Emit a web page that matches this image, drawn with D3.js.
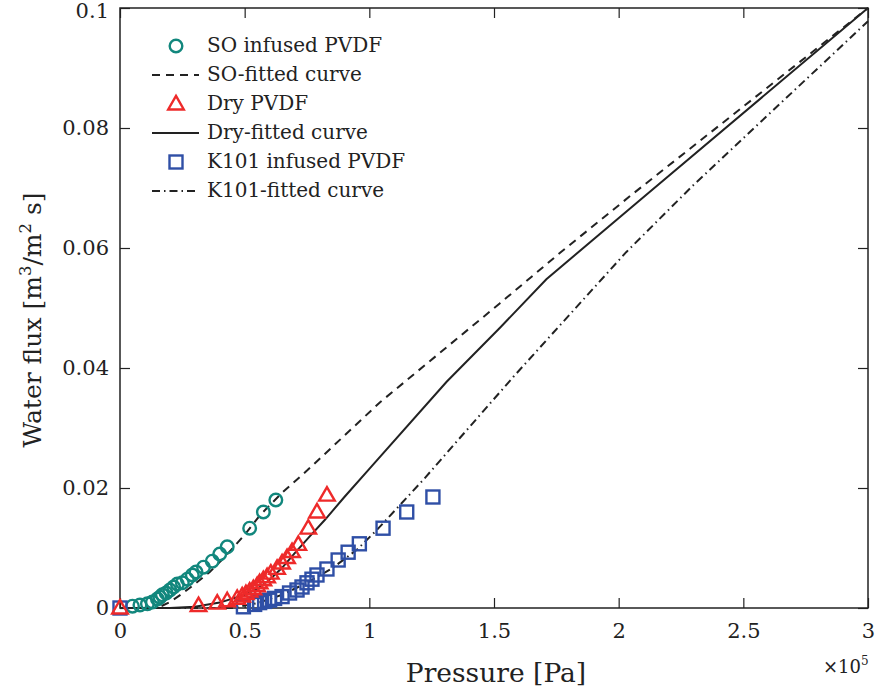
<!DOCTYPE html>
<html>
<head>
<meta charset="utf-8">
<script src="https://cdn.jsdelivr.net/npm/d3@7"></script>
<style>
  body { margin: 0; background: #fff; }
</style>
</head>
<body>
<div id="chart"></div>
<script>
// pressure in units of 1e5 Pa, flux in m3/m2 s
const soPressure = [0.05, 0.08, 0.11, 0.13, 0.15, 0.16, 0.17, 0.185, 0.2, 0.215, 0.23, 0.25, 0.27, 0.29, 0.305, 0.335, 0.37, 0.4, 0.43, 0.52, 0.575, 0.625]
const soFlux = [0.0003, 0.0005, 0.0007, 0.001, 0.0015, 0.0018, 0.0022, 0.0025, 0.003, 0.0035, 0.004, 0.0042, 0.0048, 0.0055, 0.006, 0.0068, 0.0078, 0.009, 0.0102, 0.0133, 0.016, 0.018]

const dryPressure = [0, 0.315, 0.39, 0.43, 0.47, 0.49, 0.505, 0.52, 0.535, 0.55, 0.56, 0.575, 0.59, 0.605, 0.63, 0.65, 0.67, 0.69, 0.715, 0.755, 0.79, 0.83]
const dryFlux = [0, 0.0004, 0.0008, 0.0012, 0.0016, 0.002, 0.0024, 0.0028, 0.0032, 0.0037, 0.0042, 0.0047, 0.0052, 0.0058, 0.0066, 0.0075, 0.0084, 0.0094, 0.0106, 0.0133, 0.016, 0.0188]

const k101Pressure = [0, 0.495, 0.54, 0.56, 0.58, 0.6, 0.62, 0.65, 0.68, 0.71, 0.73, 0.75, 0.77, 0.79, 0.83, 0.875, 0.915, 0.96, 1.055, 1.15, 1.255]
const k101Flux = [0, 0.0002, 0.0006, 0.0009, 0.0011, 0.0013, 0.0016, 0.0019, 0.0025, 0.003, 0.0035, 0.0042, 0.0048, 0.0055, 0.0065, 0.008, 0.0093, 0.0107, 0.0133, 0.016, 0.0185]

const soFitPressure = [0, 0.15, 0.2, 0.25, 0.3, 0.36, 0.42, 0.5, 0.562, 0.65, 0.75, 1.043, 1.524, 1.765, 2.05, 3.0]
const soFitFlux = [0, 0, 0.001, 0.0024, 0.004, 0.006, 0.0085, 0.0122, 0.0155, 0.0192, 0.0229, 0.0343, 0.0508, 0.0592, 0.0688, 0.1]

const dryFitPressure = [0, 0.2, 0.3, 0.4, 0.5, 0.55, 0.6, 0.65, 0.7, 0.76, 0.822, 0.9, 1.0, 1.31, 1.524, 1.71, 2.086, 3.0]
const dryFitFlux = [0, 0, 0.0002, 0.0009, 0.0022, 0.0032, 0.0047, 0.0067, 0.0091, 0.0119, 0.0147, 0.0185, 0.0232, 0.0377, 0.0467, 0.0548, 0.068, 0.1]

const k101FitPressure = [0, 0.45, 0.55, 0.65, 0.75, 0.85, 0.95, 1.03, 1.215, 1.577, 2.03, 2.3, 3.0]
const k101FitFlux = [0, 0, 0.0008, 0.0022, 0.0042, 0.0066, 0.0097, 0.013, 0.0213, 0.0385, 0.0593, 0.0705, 0.0978]

const xTicks = [0, 0.5, 1, 1.5, 2, 2.5, 3]
const yTicks = [0, 0.02, 0.04, 0.06, 0.08, 0.1]

const legendLabels = ['SO infused PVDF', 'SO-fitted curve', 'Dry PVDF', 'Dry-fitted curve', 'K101 infused PVDF', 'K101-fitted curve']

const width = 881
const height = 694
const margin = { top: 8, right: 13, bottom: 86, left: 120 }

const serif = '"DejaVu Serif", "Liberation Serif", serif'
const teal = '#12877d'
const red = '#ee2a2a'
const blue = '#2f4fa6'
const ink = '#222'

const svg = d3.select('#chart').append('svg')
    .attr('width', width)
    .attr('height', height)
    .style('font-family', serif)

const x = d3.scaleLinear().domain([0, 3]).range([margin.left, width - margin.right])
const y = d3.scaleLinear().domain([0, 0.1]).range([height - margin.bottom, margin.top])

const zip = (xs, ys) => xs.map((v, i) => [v, ys[i]])

// axes, ticks pointing inward like the original figure
const fmtY = d => d === 0 ? '0' : String(d)
svg.append('g')
    .attr('transform', 'translate(0,' + y(0) + ')')
    .call(d3.axisBottom(x).tickValues(xTicks).tickSizeInner(-10).tickSizeOuter(0).tickPadding(15).tickFormat(d => String(d)))
    .call(g => g.select('.domain').remove())
svg.append('g')
    .attr('transform', 'translate(' + x(0) + ',0)')
    .call(d3.axisLeft(y).tickValues(yTicks).tickSizeInner(-10).tickSizeOuter(0).tickPadding(11).tickFormat(fmtY))
    .call(g => g.select('.domain').remove())
    // top label would touch the page edge otherwise
    .call(g => g.selectAll('.tick text').filter(d => d === 0.1).attr('dy', '0.45em'))
svg.append('g')
    .attr('transform', 'translate(0,' + y(0.1) + ')')
    .call(d3.axisTop(x).tickValues(xTicks).tickSizeInner(-10).tickSizeOuter(0).tickFormat(''))
    .call(g => g.select('.domain').remove())
svg.append('g')
    .attr('transform', 'translate(' + x(3) + ',0)')
    .call(d3.axisRight(y).tickValues(yTicks).tickSizeInner(-10).tickSizeOuter(0).tickFormat(''))
    .call(g => g.select('.domain').remove())
svg.selectAll('.tick line').attr('stroke', ink).attr('stroke-width', 1.2)
svg.selectAll('.tick text')
    .attr('fill', ink)
    .attr('font-size', 21)
    .style('font-family', serif)

svg.append('rect')
    .attr('x', x(0)).attr('y', y(0.1))
    .attr('width', x(3) - x(0)).attr('height', y(0) - y(0.1))
    .attr('fill', 'none').attr('stroke', ink).attr('stroke-width', 1.5)

// axis titles
svg.append('text')
    .attr('x', 496)
    .attr('y', 682)
    .attr('text-anchor', 'middle')
    .attr('font-size', 26.5)
    .attr('fill', ink)
    .style('font-family', serif)
    .text('Pressure [Pa]')
const mult = svg.append('text')
    .attr('x', 823)
    .attr('y', 673)
    .attr('font-size', 18)
    .attr('fill', ink)
    .style('font-family', serif)
mult.append('tspan').text('×10')
mult.append('tspan').attr('font-size', 12).attr('dy', -8).text('5')

const yTitle = svg.append('text')
    .attr('transform', 'translate(41,320) rotate(-90)')
    .attr('text-anchor', 'middle')
    .attr('font-size', 25)
    .attr('fill', ink)
    .style('font-family', serif)
yTitle.append('tspan').text('Water flux [m')
yTitle.append('tspan').attr('font-size', 16.5).attr('dy', -10).text('3')
yTitle.append('tspan').attr('dy', 10).text('/m')
yTitle.append('tspan').attr('font-size', 16.5).attr('dy', -10).text('2')
yTitle.append('tspan').attr('dy', 10).text(' s]')

// fitted curves
const line = d3.line().x(d => x(d[0])).y(d => y(d[1]))
const curves = [
    { data: zip(soFitPressure, soFitFlux), dash: '8,6' },
    { data: zip(dryFitPressure, dryFitFlux), dash: null },
    { data: zip(k101FitPressure, k101FitFlux), dash: '8,4,1.5,4' }
]
svg.append('g').selectAll('path')
    .data(curves)
    .enter()
    .append('path')
    .attr('d', d => line(d.data))
    .attr('fill', 'none')
    .attr('stroke', ink)
    .attr('stroke-width', 2)
    .attr('stroke-dasharray', d => d.dash)

// markers
const triangle = s => 'M0,' + (-s * 0.62) + 'L' + (s * 0.6) + ',' + (s * 0.42) + 'L' + (-s * 0.6) + ',' + (s * 0.42) + 'Z'

function drawCircles(g, data) {
    g.selectAll('circle').data(data).enter().append('circle')
        .attr('cx', d => x(d[0])).attr('cy', d => y(d[1])).attr('r', 6.3)
        .attr('fill', 'none').attr('stroke', teal).attr('stroke-width', 2.4)
}
function drawTriangles(g, data) {
    g.selectAll('path').data(data).enter().append('path')
        .attr('d', triangle(13))
        .attr('transform', d => 'translate(' + x(d[0]) + ',' + y(d[1]) + ')')
        .attr('fill', 'none').attr('stroke', red).attr('stroke-width', 2.4)
}
function drawSquares(g, data) {
    g.selectAll('rect').data(data).enter().append('rect')
        .attr('x', d => x(d[0]) - 6.5).attr('y', d => y(d[1]) - 6.5)
        .attr('width', 13).attr('height', 13)
        .attr('fill', 'none').attr('stroke', blue).attr('stroke-width', 2.4)
}

drawCircles(svg.append('g'), zip(soPressure, soFlux))
drawSquares(svg.append('g'), zip(k101Pressure, k101Flux))
drawTriangles(svg.append('g'), zip(dryPressure, dryFlux))

// legend
const legend = svg.append('g')
const rowY = i => 46 + i * 29
legendLabels.forEach((label, i) => {
    const cy = rowY(i)
    const at = [[x.invert(176), y.invert(cy)]]
    if (i === 0) drawCircles(legend.append('g'), at)
    if (i === 2) drawTriangles(legend.append('g'), at)
    if (i === 4) drawSquares(legend.append('g'), at)
    if (i % 2 === 1) {
        legend.append('line')
            .attr('x1', 152).attr('x2', 199).attr('y1', cy).attr('y2', cy)
            .attr('stroke', ink).attr('stroke-width', 2)
            .attr('stroke-dasharray', curves[(i - 1) / 2].dash)
    }
    legend.append('text')
        .attr('x', 207).attr('y', cy + 6)
        .attr('font-size', 20)
        .attr('fill', ink)
        .style('font-family', serif)
        .text(label)
})
</script>
</body>
</html>
